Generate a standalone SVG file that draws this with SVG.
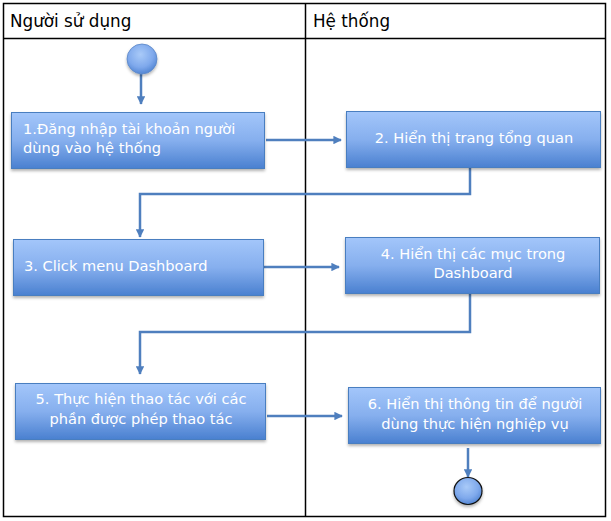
<svg xmlns="http://www.w3.org/2000/svg" width="611" height="521" viewBox="0 0 611 521">
<defs>
<linearGradient id="bg" x1="0" y1="0" x2="0" y2="1">
<stop offset="0" stop-color="#A3C6FA"/>
<stop offset="0.5" stop-color="#86AFEE"/>
<stop offset="1" stop-color="#4A80D0"/>
</linearGradient>
<radialGradient id="cg" cx="0.45" cy="0.35" r="0.7">
<stop offset="0" stop-color="#A9CAF8"/>
<stop offset="0.6" stop-color="#7FA9EC"/>
<stop offset="1" stop-color="#4A7FCF"/>
</radialGradient>
<filter id="sh" x="-10%" y="-10%" width="120%" height="130%">
<feDropShadow dx="0" dy="2" stdDeviation="1.5" flood-color="#000" flood-opacity="0.3"/>
</filter>
<marker id="ah" viewBox="0 0 10 10" refX="9" refY="5" markerWidth="3.4" markerHeight="3.4" orient="auto" markerUnits="strokeWidth">
<path d="M0,0 L10,5 L0,10 z" fill="#4F7FBE"/>
</marker>
<style>
.lane{fill:none;stroke:#000;stroke-width:1.5}
.hdr{font-family:"DejaVu Sans",sans-serif;font-size:16.8px;fill:#000}
.box{fill:url(#bg);stroke:#4A7EC0;stroke-width:1;filter:url(#sh)}
.t{font-family:"DejaVu Sans",sans-serif;font-size:14.6px;fill:#fff}
.c{text-anchor:middle}
.con{fill:none;stroke:#4F7FBE;stroke-width:2.5;marker-end:url(#ah)}
</style>
</defs>
<rect x="0" y="0" width="611" height="521" fill="#fff"/>
<g id="lanes">
<rect class="lane" x="3.5" y="3.5" width="602" height="513"/>
<line class="lane" x1="3.5" y1="38.5" x2="605.5" y2="38.5"/>
<line class="lane" x1="305.5" y1="3.5" x2="305.5" y2="516.5"/>
<text class="hdr" x="10" y="27">Người sử dụng</text>
<text class="hdr" x="313" y="27">Hệ thống</text>
</g>
<g id="connectors">
<path class="con" d="M141,74 V104"/>
<path class="con" d="M266,140 H341"/>
<path class="con" d="M470,168 V194 H140 V237"/>
<path class="con" d="M264,267 H339"/>
<path class="con" d="M470,293 V332 H140 V374"/>
<path class="con" d="M267,416 H342"/>
<path class="con" d="M468,448 V477"/>
</g>
<g id="start">
<circle cx="142" cy="59" r="15" fill="url(#cg)" stroke="#5A86C6" stroke-width="0.8" filter="url(#sh)"/>
</g>
<g id="n1">
<rect class="box" x="11.5" y="112.5" width="253" height="56"/>
<text class="t" x="23" y="134">1.Đăng nhập tài khoản người</text>
<text class="t" x="23" y="153">dùng vào hệ thống</text>
</g>
<g id="n2">
<rect class="box" x="346.5" y="111.5" width="254" height="56"/>
<text class="t c" x="474" y="143">2. Hiển thị trang tổng quan</text>
</g>
<g id="n3">
<rect class="box" x="13.5" y="239.5" width="250" height="56"/>
<text class="t" x="24" y="271">3. Click menu Dashboard</text>
</g>
<g id="n4">
<rect class="box" x="345.5" y="237.5" width="254" height="56"/>
<text class="t c" x="473" y="259">4. Hiển thị các mục trong</text>
<text class="t c" x="473" y="278">Dashboard</text>
</g>
<g id="n5">
<rect class="box" x="15.5" y="383.5" width="250" height="56"/>
<text class="t c" x="141" y="404">5. Thực hiện thao tác với các</text>
<text class="t c" x="141" y="424">phần được phép thao tác</text>
</g>
<g id="n6">
<rect class="box" x="348.5" y="387.5" width="252" height="56"/>
<text class="t c" x="475" y="409">6. Hiển thị thông tin để người</text>
<text class="t c" x="475" y="429">dùng thực hiện nghiệp vụ</text>
</g>
<g id="end">
<ellipse cx="468" cy="491" rx="14" ry="13.5" fill="url(#cg)" stroke="#111" stroke-width="1.2" filter="url(#sh)"/>
</g>
</svg>
